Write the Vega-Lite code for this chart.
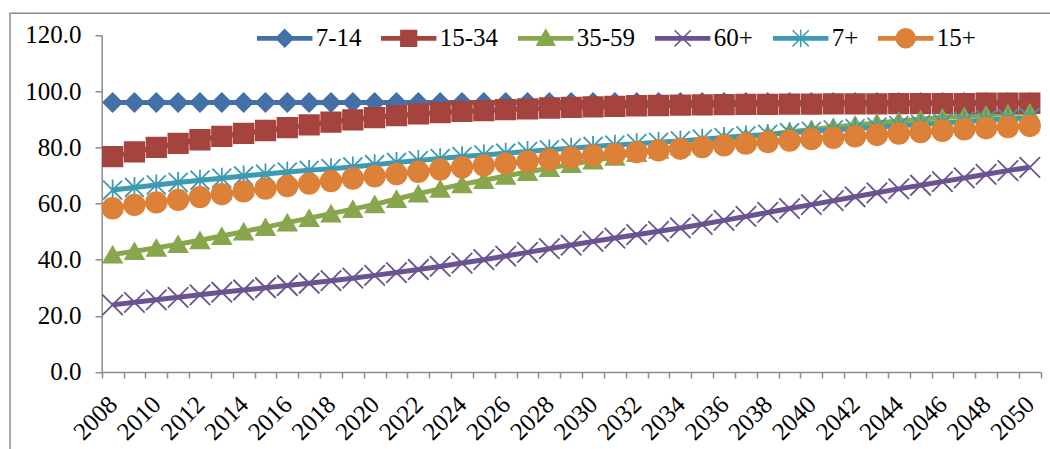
{
  "$schema": "https://vega.github.io/schema/vega-lite/v6.json",
  "width": 1045,
  "height": 450,
  "autosize": {"type": "none"},
  "padding": {"left": 10, "top": 13.3, "right": 0, "bottom": 0},
  "background": "white",
  "config": {
    "view": {"stroke": "#8c8c8c", "strokeWidth": 1.5},
    "font": "Liberation Serif"
  },
  "data": {
    "values": [
      {"year": "2008", "7-14": 96.0, "15-34": 76.7, "35-59": 41.8, "60+": 23.9, "7+": 64.8, "15+": 58.3},
      {"year": "2009", "7-14": 96.0, "15-34": 78.4, "35-59": 43.0, "60+": 24.8, "7+": 65.7, "15+": 59.5},
      {"year": "2010", "7-14": 96.0, "15-34": 80.0, "35-59": 44.2, "60+": 25.7, "7+": 66.6, "15+": 60.4},
      {"year": "2011", "7-14": 96.0, "15-34": 81.4, "35-59": 45.5, "60+": 26.6, "7+": 67.5, "15+": 61.3},
      {"year": "2012", "7-14": 96.0, "15-34": 82.7, "35-59": 46.9, "60+": 27.5, "7+": 68.3, "15+": 62.3},
      {"year": "2013", "7-14": 96.0, "15-34": 83.9, "35-59": 48.4, "60+": 28.4, "7+": 69.0, "15+": 63.3},
      {"year": "2014", "7-14": 96.0, "15-34": 85.0, "35-59": 50.0, "60+": 29.2, "7+": 69.8, "15+": 64.3},
      {"year": "2015", "7-14": 96.0, "15-34": 86.0, "35-59": 51.6, "60+": 30.0, "7+": 70.5, "15+": 65.3},
      {"year": "2016", "7-14": 96.0, "15-34": 87.0, "35-59": 53.2, "60+": 30.8, "7+": 71.2, "15+": 66.2},
      {"year": "2017", "7-14": 96.0, "15-34": 88.0, "35-59": 54.8, "60+": 31.6, "7+": 71.8, "15+": 67.1},
      {"year": "2018", "7-14": 96.0, "15-34": 89.0, "35-59": 56.4, "60+": 32.5, "7+": 72.4, "15+": 68.0},
      {"year": "2019", "7-14": 96.0, "15-34": 89.8, "35-59": 58.0, "60+": 33.4, "7+": 73.0, "15+": 68.9},
      {"year": "2020", "7-14": 96.0, "15-34": 90.6, "35-59": 59.7, "60+": 34.4, "7+": 73.8, "15+": 69.7},
      {"year": "2021", "7-14": 96.0, "15-34": 91.3, "35-59": 61.6, "60+": 35.4, "7+": 74.6, "15+": 70.5},
      {"year": "2022", "7-14": 96.0, "15-34": 91.9, "35-59": 63.5, "60+": 36.5, "7+": 75.3, "15+": 71.3},
      {"year": "2023", "7-14": 96.0, "15-34": 92.4, "35-59": 65.2, "60+": 37.6, "7+": 76.0, "15+": 72.1},
      {"year": "2024", "7-14": 96.0, "15-34": 92.8, "35-59": 66.8, "60+": 38.8, "7+": 76.7, "15+": 72.9},
      {"year": "2025", "7-14": 96.0, "15-34": 93.1, "35-59": 68.3, "60+": 40.0, "7+": 77.3, "15+": 73.6},
      {"year": "2026", "7-14": 96.0, "15-34": 93.4, "35-59": 69.8, "60+": 41.3, "7+": 77.9, "15+": 74.3},
      {"year": "2027", "7-14": 96.0, "15-34": 93.7, "35-59": 71.2, "60+": 42.6, "7+": 78.5, "15+": 75.0},
      {"year": "2028", "7-14": 96.0, "15-34": 94.0, "35-59": 72.6, "60+": 43.9, "7+": 79.1, "15+": 75.7},
      {"year": "2029", "7-14": 96.0, "15-34": 94.2, "35-59": 74.0, "60+": 45.2, "7+": 79.7, "15+": 76.4},
      {"year": "2030", "7-14": 96.0, "15-34": 94.4, "35-59": 75.3, "60+": 46.5, "7+": 80.3, "15+": 77.1},
      {"year": "2031", "7-14": 96.0, "15-34": 94.6, "35-59": 76.6, "60+": 47.7, "7+": 80.8, "15+": 77.7},
      {"year": "2032", "7-14": 96.0, "15-34": 94.8, "35-59": 77.9, "60+": 48.9, "7+": 81.3, "15+": 78.3},
      {"year": "2033", "7-14": 96.0, "15-34": 94.9, "35-59": 79.1, "60+": 50.1, "7+": 81.8, "15+": 78.9},
      {"year": "2034", "7-14": 96.0, "15-34": 95.0, "35-59": 80.3, "60+": 51.3, "7+": 82.3, "15+": 79.5},
      {"year": "2035", "7-14": 96.0, "15-34": 95.1, "35-59": 81.4, "60+": 52.6, "7+": 82.9, "15+": 80.1},
      {"year": "2036", "7-14": 96.0, "15-34": 95.2, "35-59": 82.6, "60+": 54.0, "7+": 83.5, "15+": 80.7},
      {"year": "2037", "7-14": 96.0, "15-34": 95.3, "35-59": 83.6, "60+": 55.4, "7+": 84.1, "15+": 81.3},
      {"year": "2038", "7-14": 96.0, "15-34": 95.3, "35-59": 84.6, "60+": 56.8, "7+": 84.6, "15+": 81.9},
      {"year": "2039", "7-14": 96.0, "15-34": 95.4, "35-59": 85.5, "60+": 58.2, "7+": 85.2, "15+": 82.4},
      {"year": "2040", "7-14": 96.0, "15-34": 95.4, "35-59": 86.4, "60+": 59.6, "7+": 85.7, "15+": 82.9},
      {"year": "2041", "7-14": 96.0, "15-34": 95.5, "35-59": 87.2, "60+": 61.0, "7+": 86.2, "15+": 83.4},
      {"year": "2042", "7-14": 96.0, "15-34": 95.5, "35-59": 88.0, "60+": 62.4, "7+": 86.7, "15+": 83.9},
      {"year": "2043", "7-14": 96.0, "15-34": 95.5, "35-59": 88.7, "60+": 63.8, "7+": 87.2, "15+": 84.4},
      {"year": "2044", "7-14": 96.0, "15-34": 95.6, "35-59": 89.4, "60+": 65.2, "7+": 87.7, "15+": 84.9},
      {"year": "2045", "7-14": 96.0, "15-34": 95.6, "35-59": 90.0, "60+": 66.5, "7+": 88.2, "15+": 85.4},
      {"year": "2046", "7-14": 96.0, "15-34": 95.6, "35-59": 90.6, "60+": 67.8, "7+": 88.7, "15+": 85.9},
      {"year": "2047", "7-14": 96.0, "15-34": 95.6, "35-59": 91.1, "60+": 69.1, "7+": 89.2, "15+": 86.4},
      {"year": "2048", "7-14": 96.0, "15-34": 95.7, "35-59": 91.6, "60+": 70.4, "7+": 89.7, "15+": 86.8},
      {"year": "2049", "7-14": 96.0, "15-34": 95.7, "35-59": 92.0, "60+": 71.7, "7+": 90.1, "15+": 87.2},
      {"year": "2050", "7-14": 96.0, "15-34": 95.7, "35-59": 92.4, "60+": 72.9, "7+": 90.5, "15+": 87.6}
    ]
  },
  "transform": [
    {"fold": ["7-14", "15-34", "35-59", "60+", "7+", "15+"], "as": ["group", "value"]}
  ],
  "encoding": {
    "x": {
      "field": "year",
      "type": "ordinal",
      "scale": {"type": "band", "range": [91.7, 1030.7], "paddingInner": 0, "paddingOuter": 0},
      "axis": {
        "orient": "bottom",
        "offset": -91.3,
        "title": null,
        "tickBand": "extent",
        "tickSize": 6,
        "tickWidth": 1.5,
        "tickColor": "#8c8c8c",
        "domainColor": "#8c8c8c",
        "domainWidth": 1.5,
        "labelAngle": -45,
        "labelAlign": "right",
        "labelBaseline": "middle",
        "labelPadding": 22,
        "labelFont": "Liberation Serif",
        "labelFontSize": 25,
        "labelColor": "black",
        "labelOverlap": false,
        "labelExpr": "parseInt(datum.value) % 2 === 0 ? datum.value : ''"
      }
    },
    "y": {
      "field": "value",
      "type": "quantitative",
      "scale": {"domain": [0, 120], "range": [358.7, 21.7], "nice": false},
      "axis": {
        "orient": "left",
        "offset": -91.7,
        "title": null,
        "grid": false,
        "values": [0, 20, 40, 60, 80, 100, 120],
        "format": ".1f",
        "tickSize": 6.7,
        "tickWidth": 1.5,
        "tickColor": "#8c8c8c",
        "domainColor": "#8c8c8c",
        "domainWidth": 1.5,
        "labelPadding": 14,
        "labelFont": "Liberation Serif",
        "labelFontSize": 25,
        "labelColor": "black"
      }
    }
  },
  "layer": [
    {
      "mark": {"type": "line", "strokeWidth": 5},
      "encoding": {
        "color": {
          "field": "group",
          "type": "nominal",
          "scale": {
            "domain": ["7-14", "15-34", "35-59", "60+", "7+", "15+"],
            "range": ["#4470a8", "#a5433f", "#88a64c", "#6b5392", "#3e9ab2", "#dd8038"]
          },
          "legend": {
            "title": null,
            "orient": "none",
            "direction": "horizontal",
            "legendX": 246.7,
            "legendY": -3,
            "padding": 0,
            "columnPadding": 17,
            "symbolSize": 2916,
            "labelOffset": 3,
            "labelFont": "Liberation Serif",
            "labelFontSize": 25,
            "labelColor": "black",
            "encode": {
              "symbols": {
                "update": {
                  "shape": {"signal": "datum.value === '7-14' ? 'M-1,-0.06H1V0.06H-1ZM0,-0.32L0.32,0L0,0.32L-0.32,0Z' : datum.value === '15-34' ? 'M-1,-0.06H1V0.06H-1ZM-0.29,-0.29H0.29V0.29H-0.29Z' : datum.value === '35-59' ? 'M-1,-0.06H1V0.06H-1ZM0,-0.32L0.33,0.26H-0.33Z' : datum.value === '60+' ? 'M-1,-0.06H1V0.06H-1ZM-0.3,-0.3L0.3,0.3M-0.3,0.3L0.3,-0.3' : datum.value === '7+' ? 'M-1,-0.06H1V0.06H-1ZM-0.3,-0.3L0.3,0.3M-0.3,0.3L0.3,-0.3M0,-0.33L0,0.33' : 'M-1,-0.06H1V0.06H-1ZM-0.35,0A0.35,0.35 0 1,1 0.35,0A0.35,0.35 0 1,1 -0.35,0Z'"},
                  "fill": {"scale": "color", "field": "value"},
                  "stroke": {"scale": "color", "field": "value"},
                  "strokeWidth": {"value": 1.5},
                  "size": {"value": 2916},
                  "opacity": {"value": 1}
                }
              }
            }
          }
        }
      }
    },
    {
      "transform": [{"filter": "datum.group === '7-14'"}],
      "mark": {"type": "point", "shape": "diamond", "filled": true, "fill": "#4470a8", "stroke": "#4470a8", "strokeWidth": 1.8, "size": 340, "opacity": 1}
    },
    {
      "transform": [{"filter": "datum.group === '15-34'"}],
      "mark": {"type": "point", "shape": "square", "filled": true, "fill": "#a5433f", "stroke": "#a5433f", "strokeWidth": 1.8, "size": 380, "opacity": 1}
    },
    {
      "transform": [{"filter": "datum.group === '35-59'"}],
      "mark": {"type": "point", "shape": "triangle-up", "filled": true, "fill": "#88a64c", "stroke": "#88a64c", "strokeWidth": 1.8, "size": 340, "opacity": 1}
    },
    {
      "transform": [{"filter": "datum.group === '60+'"}],
      "mark": {"type": "point", "shape": "M-1,-1L1,1M-1,1L1,-1", "filled": false, "stroke": "#6b5392", "strokeWidth": 1.8, "size": 420, "opacity": 1}
    },
    {
      "transform": [{"filter": "datum.group === '7+'"}],
      "mark": {"type": "point", "shape": "M-1,-1L1,1M-1,1L1,-1M0,-1.1L0,1.1", "filled": false, "stroke": "#3e9ab2", "strokeWidth": 1.8, "size": 360, "opacity": 1}
    },
    {
      "transform": [{"filter": "datum.group === '15+'"}],
      "mark": {"type": "point", "shape": "circle", "filled": true, "fill": "#dd8038", "stroke": "#dd8038", "strokeWidth": 1.8, "size": 420, "opacity": 1}
    }
  ]
}
